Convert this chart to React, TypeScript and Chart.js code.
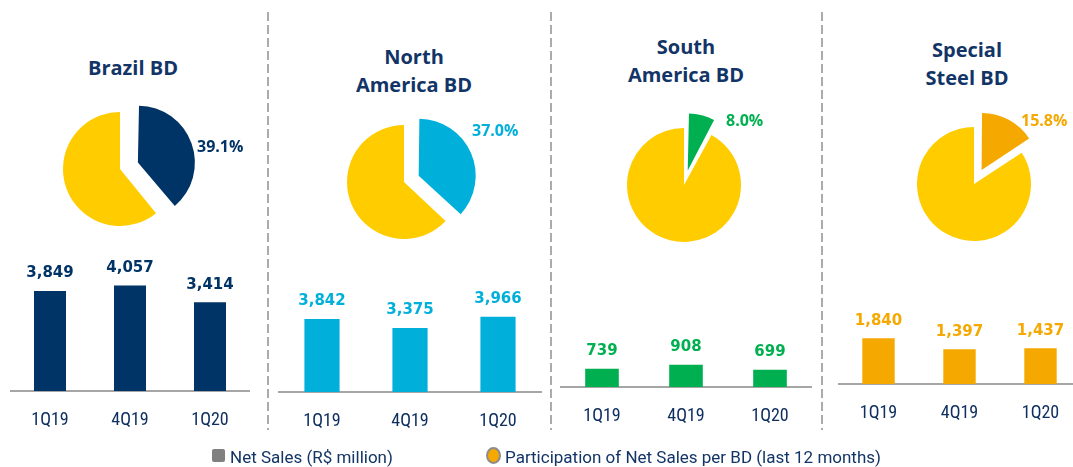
import React, { useEffect, useRef } from "react";
import { Chart, registerables } from "chart.js";

Chart.register(...registerables);

// ---------- data ----------
const categories = ["1Q19", "4Q19", "1Q20"];
const brazilSales = [3849, 4057, 3414];
const northAmericaSales = [3842, 3375, 3966];
const southAmericaSales = [739, 908, 699];
const specialSteelSales = [1840, 1397, 1437];
const bdTitles = ["Brazil BD", "North\nAmerica BD", "South\nAmerica BD", "Special\nSteel BD"];
const participation = [39.1, 37.0, 8.0, 15.8];
const legendLabels = ["Net Sales (R$ million)", "Participation of Net Sales per BD (last 12 months)"];

// ---------- styles / layout ----------
const OTHERS_COLOR = "#FFCC00";
const TEXT_NAVY = "#123466";
const CAT_NAVY = "#0E2F60";
const CAT_FONT = "'Liberation Sans Narrow', 'Roboto Condensed', Roboto, sans-serif";
const PIE_R = 57;

const panels = [
  {
    sales: brazilSales,
    color: "#003366",
    title: { x: 133, y: 68 },
    pie: { cx: 120, cy: 169, off: 19 },
    label: { x: 197, y: 146 },
    bar: { left: 10, right: 250, axisY: 391, ppu: 0.026 },
  },
  {
    sales: northAmericaSales,
    color: "#00B0DA",
    title: { x: 414, y: 57 },
    pie: { cx: 404, cy: 182, off: 16 },
    label: { x: 472, y: 130 },
    bar: { left: 278, right: 542, axisY: 392, ppu: 0.019 },
  },
  {
    sales: southAmericaSales,
    color: "#00B050",
    title: { x: 686, y: 47 },
    pie: { cx: 684, cy: 185, off: 15 },
    label: { x: 726, y: 120 },
    bar: { left: 560, right: 812, axisY: 387, ppu: 0.0246 },
  },
  {
    sales: specialSteelSales,
    color: "#F5A800",
    title: { x: 967, y: 50 },
    pie: { cx: 974, cy: 184, off: 16 },
    label: { x: 1021, y: 120 },
    bar: { left: 838, right: 1081, axisY: 384, ppu: 0.0248 },
  },
];

const separators = [268, 551, 822];

const valueLabelPlugin = {
  id: "valueLabels",
  afterDatasetsDraw(chart: any, _args: any, opts: any) {
    const ctx = chart.ctx;
    const meta = chart.getDatasetMeta(0);
    const data = chart.data.datasets[0].data;
    ctx.save();
    ctx.font = "bold 15px 'DejaVu Sans', sans-serif";
    ctx.fillStyle = opts.color;
    ctx.textAlign = "center";
    ctx.textBaseline = "middle";
    meta.data.forEach((bar: any, i: number) => {
      ctx.fillText(Number(data[i]).toLocaleString("en-US"), bar.x, bar.y - 17.5);
    });
    ctx.restore();
  },
};

// Chart.js enlarges an exploded arc's radius along with its offset;
// keep every slice at the same drawn radius.
const keepRadiusPlugin = {
  id: "keepRadius",
  beforeDatasetsDraw(chart: any) {
    const meta = chart.getDatasetMeta(0);
    meta.data.forEach((arc: any) => {
      const off = (arc.options.offset || 0) / 4;
      const fix = 1 - Math.sin(Math.min(Math.PI, arc.circumference || 0));
      arc.outerRadius = PIE_R - off * fix;
    });
  },
};

function PieChart({ value, color, cx, cy, off }: any) {
  const ref = useRef<HTMLCanvasElement>(null);
  useEffect(() => {
    const chart = new Chart(ref.current!, {
      type: "pie",
      data: {
        labels: ["BD", "Others"],
        datasets: [
          {
            data: [value, 100 - value],
            backgroundColor: [color, OTHERS_COLOR],
            borderWidth: 0,
            // Chart.js translates an arc by offset / 4
            offset: [off * 4, 0],
            radius: PIE_R,
          } as any,
        ],
      },
      options: {
        responsive: false,
        animation: false,
        layout: { padding: 0 },
        plugins: { legend: { display: false }, tooltip: { enabled: false } },
      } as any,
      plugins: [keepRadiusPlugin],
    });
    return () => chart.destroy();
  }, []);
  const S = 180;
  return (
    <canvas
      ref={ref}
      width={S}
      height={S}
      style={{ position: "absolute", left: cx - S / 2, top: cy - S / 2, width: S, height: S }}
    />
  );
}

function BarChart({ values, color, left, right, axisY, ppu }: any) {
  const ref = useRef<HTMLCanvasElement>(null);
  const plotH = 150;
  const height = plotH + 61;
  const width = right - left;
  useEffect(() => {
    const chart = new Chart(ref.current!, {
      type: "bar",
      data: {
        labels: categories,
        datasets: [
          {
            data: values,
            backgroundColor: color,
            barPercentage: 0.5,
            categoryPercentage: 0.8,
          },
        ],
      },
      options: {
        responsive: false,
        animation: false,
        layout: { padding: { top: 0, left: 0, right: 0, bottom: 1.4 } },
        plugins: {
          legend: { display: false },
          tooltip: { enabled: false },
          valueLabels: { color },
        },
        scales: {
          x: {
            grid: { display: false, drawTicks: false },
            border: { display: true, color: "#A6A6A6", width: 2 },
            ticks: { color: CAT_NAVY, font: { family: CAT_FONT, size: 18 }, padding: 19 },
          },
          y: { display: false, min: 0, max: plotH / ppu },
        },
      } as any,
      plugins: [valueLabelPlugin],
    });
    return () => chart.destroy();
  }, []);
  return (
    <canvas
      ref={ref}
      width={width}
      height={height}
      style={{ position: "absolute", left, top: axisY - plotH, width, height }}
    />
  );
}

export default function App() {
  return (
    <div
      style={{
        position: "fixed",
        left: 0,
        top: 0,
        width: 1073,
        height: 467,
        overflow: "hidden",
        background: "#fff",
      }}
    >
      {separators.map((x) => (
        <div
          key={x}
          style={{
            position: "absolute",
            left: x - 1,
            top: 12,
            width: 2,
            height: 418,
            background: "repeating-linear-gradient(to bottom, #ABABAB 0px, #ABABAB 9px, transparent 9px, transparent 13px)",
          }}
        />
      ))}
      {panels.map((p, i) => (
        <React.Fragment key={i}>
          <div
            style={{
              position: "absolute",
              left: p.title.x - 110,
              top: p.title.y - 14,
              width: 220,
              textAlign: "center",
              whiteSpace: "pre-line",
              lineHeight: "28px",
              fontFamily: "'Open Sans', sans-serif",
              fontWeight: 700,
              fontSize: 20,
              color: TEXT_NAVY,
            }}
          >
            {bdTitles[i]}
          </div>
          <PieChart value={participation[i]} color={p.color} cx={p.pie.cx} cy={p.pie.cy} off={p.pie.off} />
          <div
            style={{
              position: "absolute",
              left: p.label.x,
              top: p.label.y - 11,
              lineHeight: "22px",
              fontFamily: "'Open Sans', sans-serif",
              fontWeight: 700,
              fontSize: 16,
              color: p.color,
              whiteSpace: "nowrap",
            }}
          >
            {participation[i].toFixed(1)}%
          </div>
          <BarChart
            values={p.sales}
            color={p.color}
            left={p.bar.left}
            right={p.bar.right}
            axisY={p.bar.axisY}
            ppu={p.bar.ppu}
          />
        </React.Fragment>
      ))}
      {/* legend */}
      <div
        style={{
          position: "absolute",
          left: 212,
          top: 449,
          width: 13,
          height: 13,
          borderRadius: 2,
          background: "#808080",
        }}
      />
      <div
        style={{
          position: "absolute",
          left: 230,
          top: 446,
          lineHeight: "22px",
          fontFamily: "Roboto, sans-serif",
          fontSize: 17,
          color: TEXT_NAVY,
          whiteSpace: "nowrap",
        }}
      >
        {legendLabels[0]}
      </div>
      <div
        style={{
          position: "absolute",
          left: 486,
          top: 447,
          width: 11,
          height: 13,
          borderRadius: "50%",
          border: "2.5px solid #8C8C8C",
          background: "#F5A800",
        }}
      />
      <div
        style={{
          position: "absolute",
          left: 505,
          top: 446,
          lineHeight: "22px",
          fontFamily: "Roboto, sans-serif",
          fontSize: 17,
          color: TEXT_NAVY,
          whiteSpace: "nowrap",
        }}
      >
        {legendLabels[1]}
      </div>
    </div>
  );
}
